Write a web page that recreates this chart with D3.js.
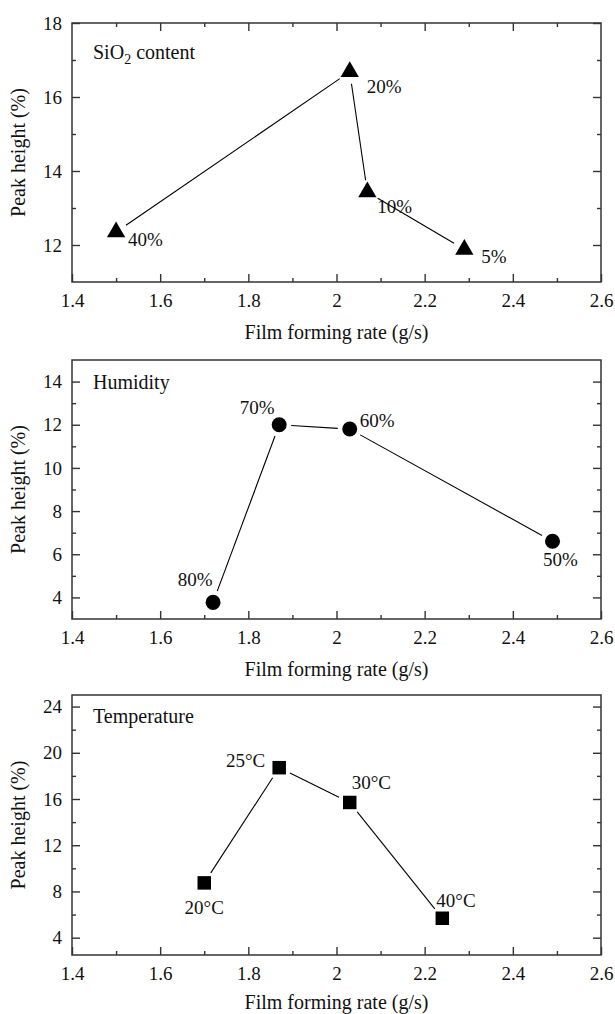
<!DOCTYPE html>
<html>
<head>
<meta charset="utf-8">
<script src="https://cdn.jsdelivr.net/npm/d3@7"></script>
<style>
  body { margin: 0; background: #fff; }
  svg { display: block; }
  text { font-family: "Liberation Serif", "DejaVu Serif", serif; fill: #111; }
</style>
</head>
<body>
<div id="chart"></div>
<script>
// x axis (shared)
const xTicks = [1.4, 1.6, 1.8, 2, 2.2, 2.4, 2.6];
const xMinor = [1.5, 1.7, 1.9, 2.1, 2.3, 2.5];

// SiO2 content panel
const sioRate = [1.50, 2.03, 2.07, 2.29];
const sioPeak = [12.35, 16.68, 13.43, 11.88];
const sioLabels = ['40%', '20%', '10%', '5%'];
const sioTicks = [12, 14, 16, 18];
const sioMinor = [13, 15, 17];

// Humidity panel
const humRate = [1.72, 1.87, 2.03, 2.49];
const humPeak = [3.77, 12.0, 11.8, 6.6];
const humLabels = ['80%', '70%', '60%', '50%'];
const humTicks = [4, 6, 8, 10, 12, 14];
const humMinor = [5, 7, 9, 11, 13];

// Temperature panel
const tempRate = [1.70, 1.87, 2.03, 2.24];
const tempPeak = [8.74, 18.71, 15.7, 5.68];
const tempLabels = ['20°C', '25°C', '30°C', '40°C'];
const tempTicks = [4, 8, 12, 16, 20, 24];
const tempMinor = [6, 10, 14, 18, 22];

const width = 615, height = 1014;
const left = 72, right = 601;

// per-panel layout; label offsets are [anchor, dx, dy] from the marker centre
const panels = [
	{ top: 23, bottom: 282, domain: [11, 18], ticks: sioTicks, minor: sioMinor,
	  rate: sioRate, peak: sioPeak, labels: sioLabels, symbol: d3.symbolTriangle, size: 145,
	  title: 'SiO2', titleDy: 29, topTicks: true, xTitleDy: 57,
	  labelPos: [['start', 12, 14], ['start', 17, 21], ['start', 10, 21], ['start', 17, 14]] },
	{ top: 360, bottom: 619, domain: [3, 15], ticks: humTicks, minor: humMinor,
	  rate: humRate, peak: humPeak, labels: humLabels, symbol: d3.symbolCircle, size: 177,
	  title: 'Humidity', titleDy: 22, topTicks: false, xTitleDy: 57,
	  labelPos: [['middle', -18, -16], ['middle', -22, -11], ['start', 10, -2], ['middle', 8, 25]] },
	{ top: 695, bottom: 955, domain: [2.5, 25], ticks: tempTicks, minor: tempMinor,
	  rate: tempRate, peak: tempPeak, labels: tempLabels, symbol: d3.symbolSquare, size: 182,
	  title: 'Temperature', titleDy: 21, topTicks: false, xTitleDy: 54,
	  labelPos: [['middle', 0, 31], ['end', -14, -1], ['start', 2, -13], ['start', -6, -11]] }
];

const svg = d3.select('#chart').append('svg')
	.attr('width', width)
	.attr('height', height);

const xScale = d3.scaleLinear().domain([1.4, 2.6]).range([left, right]);
const gap = 12;

function styleAxis(g, size) {
	g.select('.domain').remove();
	g.selectAll('.tick line').attr('stroke', '#333').attr('stroke-width', 1.4);
	g.selectAll('.tick text')
		.attr('font-family', '"Liberation Serif", "DejaVu Serif", serif')
		.attr('font-size', size)
		.attr('fill', '#111');
}

panels.forEach(p => {
	const yScale = d3.scaleLinear().domain(p.domain).range([p.bottom, p.top]);
	const g = svg.append('g');

	// bottom axis, major + minor ticks pointing inward
	g.append('g')
		.attr('transform', 'translate(0,' + p.bottom + ')')
		.call(d3.axisBottom(xScale).tickValues(xTicks).tickSize(-8).tickPadding(12).tickFormat(d => d))
		.call(s => styleAxis(s, 19));
	g.append('g')
		.attr('transform', 'translate(0,' + p.bottom + ')')
		.call(d3.axisBottom(xScale).tickValues(xMinor).tickSize(-4).tickFormat(''))
		.call(s => styleAxis(s, 19));

	if (p.topTicks) {
		g.append('g')
			.attr('transform', 'translate(0,' + p.top + ')')
			.call(d3.axisTop(xScale).tickValues(xTicks.slice(1, -1)).tickSize(-8).tickFormat(''))
			.call(s => styleAxis(s, 19));
		g.append('g')
			.attr('transform', 'translate(0,' + p.top + ')')
			.call(d3.axisTop(xScale).tickValues(xMinor).tickSize(-4).tickFormat(''))
			.call(s => styleAxis(s, 19));
	}

	// left and right axes
	g.append('g')
		.attr('transform', 'translate(' + left + ',0)')
		.call(d3.axisLeft(yScale).tickValues(p.ticks).tickSize(-8).tickPadding(10).tickFormat(d => d))
		.call(s => styleAxis(s, 19));
	g.append('g')
		.attr('transform', 'translate(' + left + ',0)')
		.call(d3.axisLeft(yScale).tickValues(p.minor).tickSize(-4).tickFormat(''))
		.call(s => styleAxis(s, 19));
	g.append('g')
		.attr('transform', 'translate(' + right + ',0)')
		.call(d3.axisRight(yScale).tickValues(p.ticks).tickSize(-8).tickFormat(''))
		.call(s => styleAxis(s, 19));
	g.append('g')
		.attr('transform', 'translate(' + right + ',0)')
		.call(d3.axisRight(yScale).tickValues(p.minor).tickSize(-4).tickFormat(''))
		.call(s => styleAxis(s, 19));

	// frame
	g.append('rect')
		.attr('x', left).attr('y', p.top)
		.attr('width', right - left).attr('height', p.bottom - p.top)
		.attr('fill', 'none').attr('stroke', '#333').attr('stroke-width', 1.5);

	// axis titles
	g.append('text')
		.attr('x', (left + right) / 2)
		.attr('y', p.bottom + p.xTitleDy)
		.attr('text-anchor', 'middle')
		.attr('font-size', 20)
		.text('Film forming rate (g/s)');
	g.append('text')
		.attr('transform', 'translate(25,' + (p.top + p.bottom) / 2 + ') rotate(-90)')
		.attr('text-anchor', 'middle')
		.attr('font-size', 20)
		.text('Peak height (%)');

	// panel caption
	const cap = g.append('text')
		.attr('x', 93)
		.attr('y', p.top + p.titleDy + 7)
		.attr('font-size', 20);
	if (p.title === 'SiO2') {
		cap.append('tspan').text('SiO');
		cap.append('tspan').attr('font-size', 14).attr('dy', 5).text('2');
		cap.append('tspan').attr('dy', -5).text(' content');
	} else {
		cap.text(p.title);
	}

	const pts = p.rate.map((r, i) => [xScale(r), yScale(p.peak[i])]);

	// connecting segments with a gap at each symbol
	const segs = d3.pairs(pts).map(([a, b]) => {
		const dx = b[0] - a[0], dy = b[1] - a[1];
		const len = Math.hypot(dx, dy);
		const ux = dx / len, uy = dy / len;
		return [[a[0] + ux * gap, a[1] + uy * gap], [b[0] - ux * gap, b[1] - uy * gap]];
	});
	g.selectAll('.seg')
		.data(segs)
		.join('path')
		.attr('class', 'seg')
		.attr('d', d => d3.line()(d))
		.attr('stroke', '#000')
		.attr('stroke-width', 1.1)
		.attr('fill', 'none');

	// markers
	g.selectAll('.mark')
		.data(pts)
		.join('path')
		.attr('class', 'mark')
		.attr('transform', d => 'translate(' + d[0] + ',' + d[1] + ')')
		.attr('d', d3.symbol().type(p.symbol).size(p.size))
		.attr('fill', '#000');

	// point labels
	g.selectAll('.lab')
		.data(pts)
		.join('text')
		.attr('class', 'lab')
		.attr('x', (d, i) => d[0] + p.labelPos[i][1])
		.attr('y', (d, i) => d[1] + p.labelPos[i][2])
		.attr('text-anchor', (d, i) => p.labelPos[i][0])
		.attr('font-size', 19)
		.text((d, i) => p.labels[i]);
});
</script>
</body>
</html>
